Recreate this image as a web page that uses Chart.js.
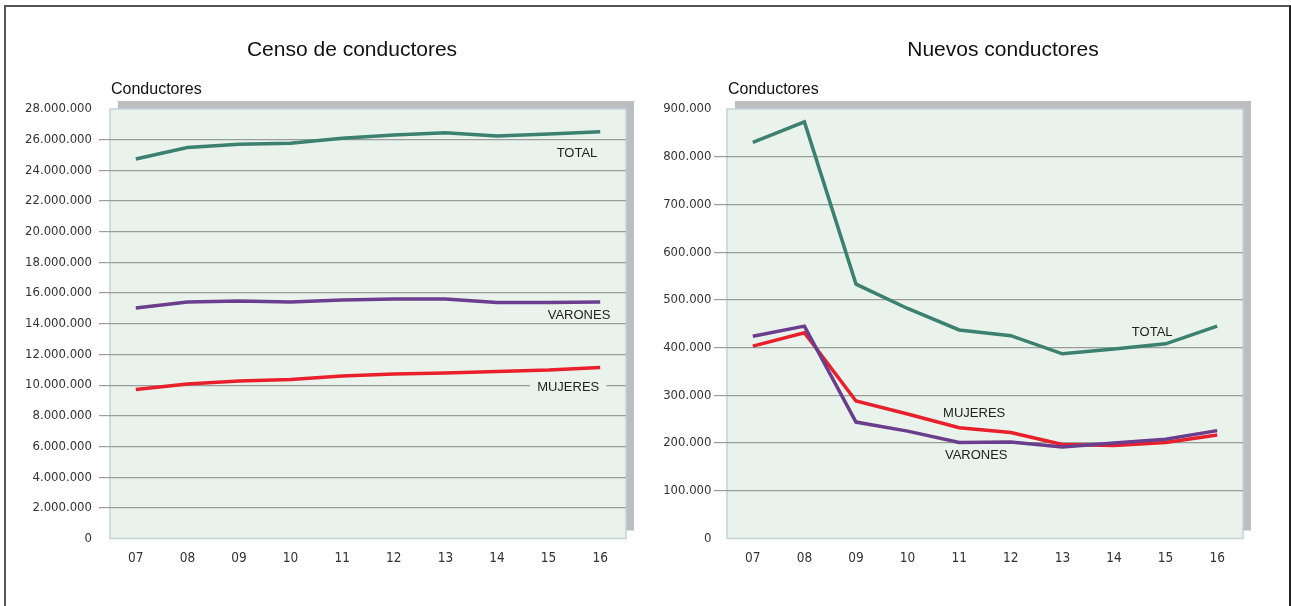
<!DOCTYPE html>
<html><head><meta charset="utf-8">
<script src="https://cdn.jsdelivr.net/npm/chart.js@4.4.1/dist/chart.umd.min.js"></script>
<style>
html,body{margin:0;padding:0;background:#fff;width:1291px;height:606px;overflow:hidden;}
#frame{position:absolute;left:4px;top:5px;width:1287px;height:640px;border:2px solid #555;border-right-color:#222;border-bottom:none;box-sizing:border-box;}
canvas{position:absolute;top:0;}
#c1{left:0;} #c2{left:645px;}
</style></head>
<body>
<div id="frame"></div>
<canvas id="c1" width="645" height="606"></canvas>
<canvas id="c2" width="646" height="606"></canvas>
<script>
// ---- data ----
const years = ['07','08','09','10','11','12','13','14','15','16'];
const censoTotal   = [24740000,25490000,25700000,25760000,26100000,26300000,26450000,26240000,26370000,26520000];
const censoVarones = [15030000,15420000,15480000,15420000,15550000,15610000,15620000,15390000,15390000,15420000];
const censoMujeres = [9710000,10070000,10270000,10370000,10590000,10720000,10790000,10890000,10980000,11150000];
const nuevosTotal   = [830000,873000,533000,482000,437000,425000,387000,397000,408000,445000];
const nuevosVarones = [424000,445000,244000,225000,201000,202000,192000,200000,208000,226000];
const nuevosMujeres = [403000,431000,288000,261000,232000,222000,197000,195000,201000,217000];
const seriesNames = ['TOTAL','VARONES','MUJERES'];

const COL_TOTAL = '#3b8070', COL_VAR = '#6a3e8c', COL_MUJ = '#e9202b';
const PLOT_BG = '#e9f3ec', SHADOW = '#bcbdc1', PLOT_BORDER = '#c2d3da';
const NARROW = '"Liberation Sans Narrow","DejaVu Sans Condensed","Roboto",sans-serif';
const SANS = '"Liberation Sans",Arial,sans-serif';

function fmt(v){ return String(Math.round(v)).replace(/\B(?=(\d{3})+(?!\d))/g,'.'); }

const panelPlugin = {
  id:'panel',
  beforeDraw(chart, args, opts){
    const {ctx, chartArea:a} = chart;
    ctx.save();
    ctx.fillStyle = SHADOW;
    ctx.fillRect(a.left+8, a.top-8, a.right-a.left, a.bottom-a.top);
    ctx.fillStyle = PLOT_BG;
    ctx.fillRect(a.left, a.top, a.right-a.left, a.bottom-a.top);
    ctx.strokeStyle = PLOT_BORDER; ctx.lineWidth = 1.5;
    ctx.strokeRect(a.left, a.top, a.right-a.left, a.bottom-a.top);
    // titles
    ctx.fillStyle = '#111';
    ctx.font = '21px ' + SANS;
    ctx.textAlign = 'center'; ctx.textBaseline = 'middle';
    ctx.fillText(opts.title, opts.titleX, 50);
    ctx.font = '16px ' + SANS;
    ctx.textAlign = 'left';
    ctx.fillText('Conductores', a.left+1, 90);
    ctx.restore();
  },
  afterDatasetsDraw(chart, args, opts){
    const {ctx} = chart;
    const xs = chart.scales.x, ys = chart.scales.y;
    ctx.save();
    ctx.font = '13px ' + SANS;
    ctx.textAlign = 'center'; ctx.textBaseline = 'middle';
    opts.labels.forEach(l=>{
      const x = xs.getPixelForValue(l.i), y = ys.getPixelForValue(l.v);
      if (l.bg){
        const w = ctx.measureText(l.text).width;
        ctx.fillStyle = PLOT_BG;
        ctx.fillRect(x - w/2 - 7, y - 8, w + 14, 16);
      }
      ctx.fillStyle = '#222';
      ctx.fillText(l.text, x, y);
    });
    ctx.restore();
  }
};

function makeChart(id, datasets, max, step, yWidth, tickLen, tickPad, padRight, panelOpts){
  return new Chart(document.getElementById(id), {
    type:'line',
    data:{ labels: years, datasets: datasets.map((d,k)=>({
      label: seriesNames[k], data: d,
      borderColor: [COL_TOTAL,COL_VAR,COL_MUJ][k],
      borderWidth: 3.5, pointRadius: 0, tension: 0, fill: false,
      borderCapStyle:'butt', borderJoinStyle:'miter'
    }))},
    options:{
      responsive:false, animation:false, devicePixelRatio:1,
      layout:{padding:{top:109,right:padRight,left:0,bottom:0}},
      plugins:{legend:{display:false}, tooltip:{enabled:false}, panel: panelOpts},
      scales:{
        x:{ offset:true,
            grid:{display:false, drawTicks:false, tickLength:0},
            border:{display:false},
            ticks:{font:{family:NARROW,size:13.5}, color:'#333', padding:12, maxRotation:0},
            afterFit(s){ s.height = 67.5; } },
        y:{ min:0, max:max,
            grid:{ color:(c)=> (c.index===0 || c.tick.value===max) ? 'rgba(0,0,0,0)' : '#9b9d9c',
                   lineWidth:1.2, tickLength:tickLen, drawTicks:true },
            border:{display:false},
            ticks:{ stepSize:step, font:{family:NARROW,size:13}, color:'#333', padding:tickPad,
                    callback:(v)=>fmt(v) },
            afterFit(s){ s.width = yWidth; } }
      }
    },
    plugins:[panelPlugin]
  });
}

makeChart('c1', [censoTotal, censoVarones, censoMujeres], 28000000, 2000000, 110, 11, 7, 19, {
  title:'Censo de conductores', titleX:352,
  labels:[
    {text:'TOTAL', i:8.55, v:25130000},
    {text:'VARONES', i:8.59, v:14570000},
    {text:'MUJERES', i:8.38, v:9880000, bg:true}
  ]
});
makeChart('c2', [nuevosTotal, nuevosVarones, nuevosMujeres], 900000, 100000, 82, 13, 2.5, 48, {
  title:'Nuevos conductores', titleX:358,
  labels:[
    {text:'TOTAL', i:7.74, v:432700},
    {text:'MUJERES', i:4.29, v:263000},
    {text:'VARONES', i:4.33, v:175000}
  ]
});
</script>
</body></html>
